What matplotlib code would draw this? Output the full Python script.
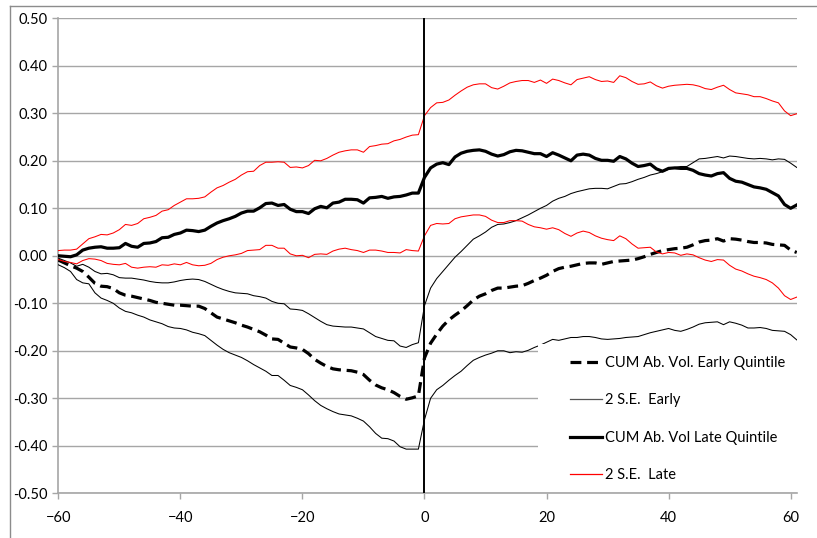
import matplotlib
matplotlib.use("Agg")
import matplotlib.pyplot as plt
from matplotlib.lines import Line2D
from matplotlib.patches import Rectangle

plt.rcParams['font.family'] = ['Lato', 'DejaVu Sans']

# event days
days = list(range(-60, 62))

cum_early = [
    -0.009, -0.015, -0.021, -0.026, -0.033, -0.045, -0.058, -0.064, -0.065, -0.069,
    -0.078, -0.083, -0.085, -0.088, -0.091, -0.094, -0.098, -0.100, -0.102, -0.104,
    -0.104, -0.105, -0.106, -0.106, -0.111, -0.120, -0.129, -0.133, -0.137, -0.141,
    -0.146, -0.150, -0.155, -0.160, -0.167, -0.175, -0.176, -0.184, -0.192, -0.194,
    -0.197, -0.206, -0.218, -0.226, -0.233, -0.238, -0.240, -0.241, -0.242, -0.245,
    -0.250, -0.262, -0.272, -0.278, -0.282, -0.288, -0.296, -0.302, -0.299, -0.295,
    -0.215, -0.184, -0.165, -0.148, -0.135, -0.125, -0.116, -0.105, -0.093, -0.085,
    -0.080, -0.073, -0.068, -0.068, -0.066, -0.064, -0.063, -0.058, -0.052, -0.047,
    -0.041, -0.033, -0.027, -0.024, -0.022, -0.019, -0.016, -0.015, -0.015, -0.018,
    -0.015, -0.012, -0.011, -0.010, -0.009, -0.006, -0.002, 0.003, 0.007, 0.011,
    0.013, 0.015, 0.016, 0.018, 0.023, 0.029, 0.032, 0.033, 0.036, 0.031,
    0.036, 0.035, 0.033, 0.030, 0.028, 0.028, 0.027, 0.024, 0.023, 0.022,
    0.012, 0.007,
]

se_early_hi = [
    -0.005, -0.010, -0.015, -0.022, -0.018, -0.024, -0.033, -0.038, -0.037, -0.040,
    -0.046, -0.047, -0.047, -0.049, -0.051, -0.054, -0.056, -0.057, -0.057, -0.055,
    -0.052, -0.050, -0.049, -0.050, -0.054, -0.060, -0.066, -0.071, -0.075, -0.078,
    -0.079, -0.080, -0.084, -0.086, -0.089, -0.096, -0.100, -0.101, -0.112, -0.113,
    -0.115, -0.122, -0.130, -0.138, -0.145, -0.148, -0.149, -0.150, -0.150, -0.152,
    -0.154, -0.162, -0.170, -0.174, -0.178, -0.179, -0.190, -0.193, -0.187, -0.183,
    -0.105, -0.068, -0.048, -0.033, -0.018, -0.003, 0.009, 0.022, 0.035, 0.042,
    0.050, 0.060, 0.066, 0.067, 0.070, 0.074, 0.080, 0.086, 0.093, 0.100,
    0.106, 0.115, 0.121, 0.125, 0.131, 0.135, 0.138, 0.141, 0.142, 0.142,
    0.141, 0.146, 0.151, 0.152, 0.156, 0.161, 0.165, 0.170, 0.173, 0.177,
    0.182, 0.186, 0.188, 0.188, 0.196, 0.204, 0.205, 0.207, 0.209, 0.206,
    0.210, 0.209, 0.207, 0.205, 0.204, 0.205, 0.204, 0.202, 0.204, 0.203,
    0.195, 0.186,
]

se_early_lo = [
    -0.019, -0.025, -0.033, -0.050, -0.057, -0.059, -0.078, -0.089, -0.094, -0.100,
    -0.110, -0.117, -0.120, -0.125, -0.129, -0.135, -0.139, -0.143, -0.149, -0.152,
    -0.153, -0.156, -0.161, -0.164, -0.168, -0.178, -0.188, -0.197, -0.204, -0.209,
    -0.214, -0.221, -0.229, -0.236, -0.243, -0.252, -0.252, -0.262, -0.273, -0.277,
    -0.282, -0.293, -0.305, -0.315, -0.322, -0.328, -0.333, -0.335, -0.337, -0.342,
    -0.348, -0.360, -0.374, -0.384, -0.385, -0.390, -0.402, -0.407, -0.407, -0.407,
    -0.345, -0.300, -0.282, -0.273, -0.262, -0.252, -0.243, -0.231, -0.220, -0.214,
    -0.209, -0.205, -0.200, -0.200, -0.204, -0.202, -0.203, -0.199, -0.193, -0.188,
    -0.182, -0.176, -0.178, -0.175, -0.172, -0.172, -0.170, -0.170, -0.172, -0.175,
    -0.176, -0.175, -0.174, -0.172, -0.171, -0.170, -0.166, -0.162, -0.159, -0.156,
    -0.153, -0.157, -0.159, -0.155, -0.150, -0.144, -0.141, -0.140, -0.139, -0.145,
    -0.139, -0.142, -0.146, -0.152, -0.152, -0.151, -0.153, -0.157, -0.158, -0.159,
    -0.166, -0.177,
]

cum_late = [
    0.000, -0.001, -0.002, 0.002, 0.012, 0.016, 0.018, 0.019, 0.016, 0.016,
    0.017, 0.026, 0.020, 0.018, 0.026, 0.027, 0.030, 0.038, 0.039, 0.045,
    0.048, 0.054, 0.053, 0.051, 0.054, 0.062, 0.069, 0.074, 0.078, 0.083,
    0.090, 0.094, 0.094, 0.101, 0.110, 0.111, 0.106, 0.108, 0.098, 0.093,
    0.093, 0.089, 0.099, 0.104, 0.101, 0.111, 0.113, 0.119, 0.119, 0.118,
    0.111, 0.122, 0.123, 0.125, 0.121, 0.124, 0.125, 0.128, 0.132, 0.132,
    0.165, 0.185, 0.193, 0.196, 0.192, 0.208, 0.216, 0.220, 0.222, 0.223,
    0.220, 0.214, 0.210, 0.213, 0.219, 0.222, 0.221, 0.218, 0.215, 0.215,
    0.209, 0.217, 0.212, 0.206, 0.200, 0.212, 0.214, 0.212, 0.205, 0.201,
    0.201, 0.199, 0.209, 0.204, 0.195, 0.188, 0.190, 0.193, 0.183, 0.178,
    0.184, 0.185, 0.184, 0.184, 0.180, 0.173, 0.170, 0.168, 0.173, 0.175,
    0.163, 0.157, 0.155, 0.150, 0.145, 0.143, 0.140, 0.133, 0.126, 0.108,
    0.100, 0.107,
]

se_late_hi = [
    0.011, 0.012, 0.012, 0.014, 0.025, 0.036, 0.040, 0.045, 0.044, 0.048,
    0.055, 0.066, 0.064, 0.068, 0.078, 0.081, 0.085, 0.094, 0.097, 0.106,
    0.113, 0.120, 0.120, 0.121, 0.124, 0.134, 0.143, 0.148, 0.155, 0.161,
    0.170, 0.177, 0.178, 0.190, 0.197, 0.197, 0.198, 0.197, 0.186, 0.187,
    0.185, 0.190, 0.201, 0.200, 0.205, 0.212, 0.218, 0.221, 0.223, 0.223,
    0.218, 0.230, 0.232, 0.235, 0.236, 0.242, 0.245, 0.250, 0.254, 0.255,
    0.295, 0.312, 0.322, 0.323, 0.328, 0.338, 0.347, 0.355, 0.360, 0.362,
    0.362, 0.354, 0.351, 0.357, 0.364, 0.367, 0.369, 0.369, 0.365, 0.370,
    0.363, 0.372, 0.369, 0.364, 0.360, 0.371, 0.374, 0.377, 0.371, 0.367,
    0.368, 0.365, 0.379, 0.375, 0.367, 0.361, 0.362, 0.366, 0.358, 0.353,
    0.357, 0.359, 0.360, 0.361, 0.360, 0.357, 0.352, 0.350, 0.355, 0.359,
    0.350, 0.343, 0.341, 0.339, 0.335, 0.335, 0.331, 0.326, 0.322, 0.305,
    0.295, 0.299,
]

se_late_lo = [
    -0.008, -0.012, -0.014, -0.017, -0.010, -0.006, -0.007, -0.010, -0.016, -0.018,
    -0.019, -0.016, -0.024, -0.026, -0.024, -0.023, -0.024, -0.019, -0.020, -0.017,
    -0.019, -0.014, -0.019, -0.021, -0.020, -0.016, -0.008, -0.003, 0.000, 0.002,
    0.005, 0.011, 0.012, 0.013, 0.022, 0.022, 0.016, 0.016, 0.004, 0.000,
    0.001, -0.004, 0.003, 0.004, 0.003, 0.010, 0.014, 0.016, 0.013, 0.011,
    0.007, 0.012, 0.012, 0.010, 0.007, 0.007, 0.006, 0.013, 0.011, 0.010,
    0.042, 0.064, 0.068, 0.067, 0.068, 0.078, 0.082, 0.084, 0.086, 0.086,
    0.083, 0.075, 0.070, 0.070, 0.074, 0.074, 0.073, 0.066, 0.061, 0.059,
    0.056, 0.059, 0.055, 0.047, 0.041, 0.048, 0.052, 0.049, 0.042, 0.037,
    0.034, 0.032, 0.042, 0.036, 0.025, 0.016, 0.017, 0.018, 0.008, 0.004,
    0.007, 0.006, 0.001, 0.004, 0.002, -0.004, -0.009, -0.012, -0.008, -0.009,
    -0.020, -0.028, -0.032, -0.038, -0.043, -0.046, -0.050, -0.057, -0.068, -0.084,
    -0.092, -0.087,
]

legend_labels = [
    "CUM Ab. Vol. Early Quintile",
    "2 S.E.  Early",
    "CUM Ab. Vol Late Quintile",
    "2 S.E.  Late",
]

GRID = "#a6a6a6"

fig = plt.figure(figsize=(8.17, 5.38), dpi=100, facecolor="white")
ax = fig.add_axes([0.0714, 0.0831, 0.9038, 0.8829])

ax.plot(days, cum_early, color="black", lw=2.3, dashes=(3.4, 1.8), zorder=3)
ax.plot(days, se_early_hi, color="black", lw=0.75, zorder=3)
ax.plot(days, se_early_lo, color="black", lw=0.75, zorder=3)
ax.plot(days, cum_late, color="black", lw=2.3, zorder=3)
ax.plot(days, se_late_hi, color="red", lw=0.75, zorder=3)
ax.plot(days, se_late_lo, color="red", lw=0.75, zorder=3)

# event date marker
ax.axvline(0, color="black", lw=1.4, zorder=4)

ax.set_xlim(-60, 61)
ax.set_ylim(-0.5, 0.5)
ax.set_xticks(range(-60, 61, 20))
ax.set_yticks([i / 10 for i in range(-5, 6)])
ax.yaxis.set_major_formatter(matplotlib.ticker.FormatStrFormatter("%.2f"))
ax.grid(axis="y", color=GRID, lw=1.0)
ax.set_axisbelow(True)

for side in ("top", "right"):
    ax.spines[side].set_visible(False)
for side in ("left", "bottom"):
    ax.spines[side].set_color(GRID)
    ax.spines[side].set_linewidth(1.2)

ax.tick_params(axis="both", colors=GRID, labelcolor="black", labelsize=10.5,
               length=4, width=1.0, direction="out")
ax.tick_params(axis="y", pad=4)
ax.tick_params(axis="x", pad=9)

# white legend area over the plot
ax.add_patch(Rectangle((0.6497, 0.007), 0.3503, 0.307, transform=ax.transAxes,
                       facecolor="white", edgecolor="none", zorder=5))

handles = [
    Line2D([], [], color="black", lw=2.3, dashes=(3.4, 1.8)),
    Line2D([], [], color="#555555", lw=0.9),
    Line2D([], [], color="black", lw=2.3),
    Line2D([], [], color="red", lw=0.9),
]
leg = ax.legend(handles, legend_labels, loc="upper left",
                bbox_to_anchor=(0.693, 0.289), frameon=False, borderpad=0,
                borderaxespad=0, handlelength=2.2, handletextpad=0.2,
                labelspacing=1.6, fontsize=10.5)
leg.set_zorder(6)

# chart border along the top and left edges
fig.add_artist(Line2D([10 / 817, 1], [1 - 6 / 538, 1 - 6 / 538],
                      transform=fig.transFigure, color="#8c8c8c", lw=1.0))
fig.add_artist(Line2D([10 / 817, 10 / 817], [0, 1 - 6 / 538],
                      transform=fig.transFigure, color="#8c8c8c", lw=1.0))

fig.savefig("out.png", dpi=100)
